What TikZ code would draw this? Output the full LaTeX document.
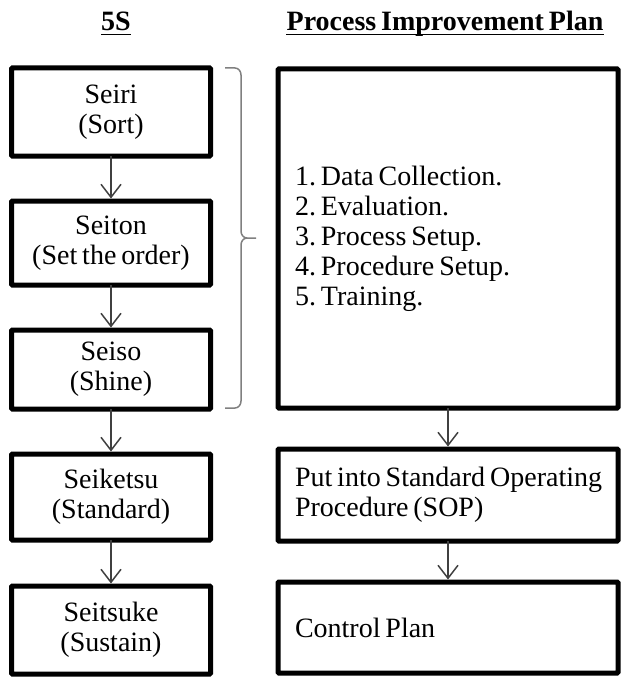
\documentclass[tikz,border=0pt]{standalone}
\usepackage{fontspec}
\setmainfont{Liberation Serif}[WordSpace=0.7]
\usetikzlibrary{arrows.meta}
\frenchspacing
\newcommand{\leftblock}[1]{\parbox{306pt}{\raggedright\frenchspacing #1}}
\begin{document}
\begin{tikzpicture}[x=1pt,y=-1pt,
  box/.style={draw=black, line width=5pt, fill=white, rounded corners=1pt,
    inner sep=0pt, outer sep=0pt, align=center,
    font=\fontsize{28}{30}\selectfont},
  lbox/.style={box, minimum width=199pt},
  rbox/.style={box, minimum width=340pt, inner xsep=17pt},
  flow/.style={draw=black!75, line width=1.5pt, shorten >=2.5pt,
    -{Straight Barb[length=13pt,width=20pt,line width=1.5pt]}},
  hdr/.style={font=\fontsize{28}{30}\selectfont\bfseries, anchor=base, inner sep=0pt},
  uline/.style={line width=1.6pt},
  bracket/.style={draw=black!50, line width=1.5pt}
  ]
\useasboundingbox (0,0) rectangle (623,677);

% headers
\node[hdr] (h5s) at (116,31) {5S};
\node[hdr] (hpip) at (445,31) {Process Improvement Plan};
\draw[uline] ([yshift=-3.5pt]h5s.base west) -- ([yshift=-3.5pt]h5s.base east);
\draw[uline] ([yshift=-3.5pt]hpip.base west) -- ([yshift=-3.5pt]hpip.base east);

% 5S column
\node[lbox, minimum height=88pt] (seiri) at (111,112) {Seiri\\(Sort)};
\node[lbox, minimum height=84pt] (seiton) at (111,243) {Seiton\\(Set the order)};
\node[lbox, minimum height=79pt] (seiso) at (111,369.5) {Seiso\\(Shine)};
\node[lbox, minimum height=86pt] (seiketsu) at (111,497) {Seiketsu\\(Standard)};
\node[lbox, minimum height=88pt] (seitsuke) at (111,630) {Seitsuke\\(Sustain)};

% Process improvement plan column
\node[rbox, minimum height=339pt] (plan) at (448,238.5)
  {\leftblock{1. Data Collection.\\2. Evaluation.\\3. Process Setup.\\4. Procedure Setup.\\5. Training.}};
\node[rbox, minimum height=92pt] (sop) at (448,495)
  {\leftblock{\mbox{Put into Standard Operating}\\\mbox{Procedure (SOP)}}};
\node[rbox, minimum height=91pt] (ctrl) at (448,627.5) {\leftblock{Control Plan}};

% arrows
\draw[flow] (seiri) -- (seiton);
\draw[flow] (seiton) -- (seiso);
\draw[flow] (seiso) -- (seiketsu);
\draw[flow] (seiketsu) -- (seitsuke);
\draw[flow] (plan) -- (sop);
\draw[flow] (sop) -- (ctrl);

% bracket grouping first three steps
\draw[bracket] (225,68) -- (235,68) to[out=0,in=90] (241,75) -- (241,231)
  to[out=-90,in=180] (247,238) -- (256,238);
\draw[bracket] (247,238) to[out=180,in=90] (241,245) -- (241,401)
  to[out=-90,in=0] (235,408) -- (225,408);
\end{tikzpicture}
\end{document}
